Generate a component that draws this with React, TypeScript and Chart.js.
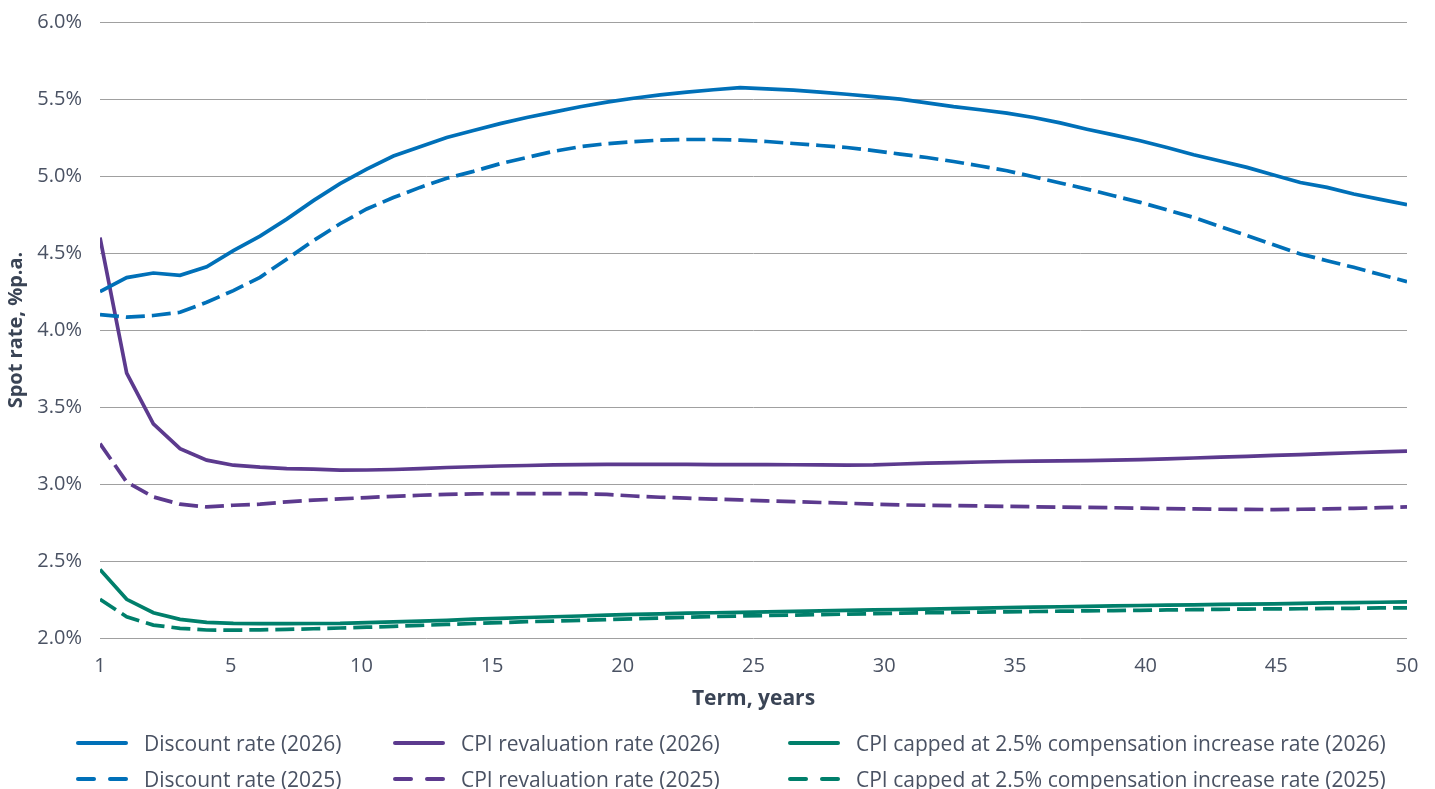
import React, { useEffect, useRef } from "react";
import { Chart, registerables } from "chart.js";

Chart.register(...registerables);

const terms = [1, 2, 3, 4, 5, 6, 7, 8, 9, 10, 11, 12, 13, 14, 15, 16, 17, 18, 19, 20, 21, 22, 23, 24, 25, 26, 27, 28, 29, 30, 31, 32, 33, 34, 35, 36, 37, 38, 39, 40, 41, 42, 43, 44, 45, 46, 47, 48, 49, 50];

const xTickLabels = ["1", "5", "10", "15", "20", "25", "30", "35", "40", "45", "50"];

const discount2026 = [4.25, 4.34, 4.37, 4.355, 4.41, 4.515, 4.61, 4.72, 4.84, 4.95, 5.045, 5.13, 5.19, 5.25, 5.295, 5.34, 5.38, 5.415, 5.45, 5.48, 5.505, 5.527, 5.545, 5.56, 5.574, 5.566, 5.557, 5.545, 5.531, 5.515, 5.499, 5.475, 5.45, 5.43, 5.408, 5.38, 5.345, 5.304, 5.267, 5.229, 5.185, 5.138, 5.097, 5.056, 5.007, 4.958, 4.926, 4.883, 4.848, 4.814];

const discount2025 = [4.1, 4.083, 4.094, 4.115, 4.18, 4.256, 4.342, 4.46, 4.58, 4.69, 4.786, 4.86, 4.926, 4.985, 5.03, 5.08, 5.12, 5.16, 5.19, 5.21, 5.223, 5.233, 5.237, 5.237, 5.233, 5.224, 5.211, 5.198, 5.185, 5.165, 5.142, 5.12, 5.094, 5.065, 5.034, 4.995, 4.955, 4.915, 4.872, 4.829, 4.78, 4.731, 4.672, 4.613, 4.553, 4.494, 4.45, 4.407, 4.36, 4.314];

const cpi2026 = [4.6, 3.72, 3.39, 3.23, 3.155, 3.122, 3.109, 3.1, 3.096, 3.09, 3.091, 3.094, 3.1, 3.107, 3.112, 3.117, 3.12, 3.124, 3.126, 3.127, 3.127, 3.127, 3.127, 3.126, 3.126, 3.126, 3.125, 3.124, 3.123, 3.124, 3.13, 3.135, 3.139, 3.143, 3.146, 3.148, 3.15, 3.152, 3.155, 3.158, 3.163, 3.169, 3.174, 3.18, 3.186, 3.191, 3.197, 3.203, 3.209, 3.214];

const cpi2025 = [3.262, 3.013, 2.916, 2.869, 2.851, 2.862, 2.869, 2.884, 2.895, 2.903, 2.912, 2.92, 2.927, 2.932, 2.936, 2.938, 2.938, 2.938, 2.937, 2.932, 2.922, 2.914, 2.908, 2.902, 2.897, 2.89, 2.885, 2.88, 2.875, 2.869, 2.864, 2.862, 2.86, 2.857, 2.855, 2.852, 2.85, 2.848, 2.846, 2.843, 2.84, 2.838, 2.836, 2.835, 2.834, 2.836, 2.838, 2.842, 2.846, 2.851];

const capped2026 = [2.445, 2.251, 2.164, 2.121, 2.102, 2.095, 2.093, 2.093, 2.094, 2.095, 2.1, 2.105, 2.11, 2.115, 2.122, 2.127, 2.133, 2.138, 2.143, 2.148, 2.153, 2.157, 2.161, 2.164, 2.167, 2.17, 2.173, 2.176, 2.179, 2.182, 2.185, 2.188, 2.191, 2.194, 2.197, 2.2, 2.203, 2.206, 2.208, 2.211, 2.213, 2.215, 2.218, 2.22, 2.222, 2.225, 2.228, 2.23, 2.232, 2.235];

const capped2025 = [2.251, 2.138, 2.084, 2.063, 2.052, 2.051, 2.053, 2.056, 2.06, 2.065, 2.07, 2.076, 2.082, 2.088, 2.094, 2.1, 2.106, 2.11, 2.115, 2.12, 2.125, 2.13, 2.135, 2.139, 2.143, 2.146, 2.149, 2.152, 2.155, 2.158, 2.161, 2.164, 2.166, 2.168, 2.17, 2.172, 2.174, 2.176, 2.178, 2.18, 2.182, 2.184, 2.186, 2.188, 2.189, 2.19, 2.192, 2.193, 2.195, 2.196];

const BLUE = "#0070b8";
const PURPLE = "#5c3a8e";
const GREEN = "#007f6b";
const TEXT = "#4a5263";
const TITLE = "#3a4455";
const FONT = "'Open Sans', sans-serif";
const DASH = [19, 7];
const CANVAS_SHIFT = 8;

const seriesDefs = [
  { label: "Discount rate (2026)", values: discount2026, color: BLUE, dashed: false },
  { label: "Discount rate (2025)", values: discount2025, color: BLUE, dashed: true },
  { label: "CPI revaluation rate (2026)", values: cpi2026, color: PURPLE, dashed: false },
  { label: "CPI revaluation rate (2025)", values: cpi2025, color: PURPLE, dashed: true },
  { label: "CPI capped at 2.5% compensation increase rate (2026)", values: capped2026, color: GREEN, dashed: false },
  { label: "CPI capped at 2.5% compensation increase rate (2025)", values: capped2025, color: GREEN, dashed: true },
];

const legendColumns = [
  { left: 78, items: [0, 1] },
  { left: 395, items: [2, 3] },
  { left: 790, items: [4, 5] },
];
const legendRows = [743, 779];

function LegendSample({ color, dashed }: { color: string; dashed: boolean }) {
  return (
    <svg width={52} height={8} style={{ display: "block" }}>
      {dashed ? (
        <g stroke={color} strokeWidth={4} strokeLinecap="round">
          <line x1={2} y1={4} x2={18} y2={4} />
          <line x1={34} y1={4} x2={50} y2={4} />
        </g>
      ) : (
        <line x1={2} y1={4} x2={50} y2={4} stroke={color} strokeWidth={4} strokeLinecap="round" />
      )}
    </svg>
  );
}

export default function App() {
  const canvasRef = useRef<HTMLCanvasElement | null>(null);

  useEffect(() => {
    if (!canvasRef.current) return;
    const datasets = seriesDefs.map((s) => ({
      label: s.label,
      data: terms.map((t, i) => ({ x: t, y: s.values[i] })),
      borderColor: s.color,
      backgroundColor: s.color,
      borderWidth: 3.7,
      borderDash: s.dashed ? DASH : [],
      pointRadius: 0,
      tension: 0,
      fill: false,
    }));
    const chart = new Chart(canvasRef.current, {
      type: "line",
      data: { datasets },
      options: {
        animation: false,
        responsive: false,
        maintainAspectRatio: false,
        layout: { padding: { top: 13, right: 28, left: 0, bottom: 0 } },
        plugins: { legend: { display: false }, tooltip: { enabled: false } },
        scales: {
          x: {
            type: "linear",
            min: terms[0],
            max: terms[terms.length - 1],
            afterBuildTicks: (scale: any) => {
              const span = terms[terms.length - 1] - terms[0];
              scale.ticks = xTickLabels.map((_, i) => ({
                value: terms[0] + (i * span) / (xTickLabels.length - 1),
              }));
            },
            afterFit: (scale: any) => {
              scale.height = 151;
            },
            grid: { display: false, drawTicks: false },
            border: { display: false },
            ticks: {
              autoSkip: false,
              maxRotation: 0,
              padding: 16,
              color: TEXT,
              font: { family: FONT, size: 20 },
              callback: (_v: any, i: number) => xTickLabels[i],
            },
            title: {
              display: true,
              text: "Term, years",
              color: TITLE,
              font: { family: FONT, size: 21, weight: "bold" },
              padding: { top: 0, bottom: 77 },
            },
          },
          y: {
            min: 2,
            max: 6,
            afterFit: (scale: any) => {
              scale.width = 100;
            },
            grid: { color: "#a0a0a0", lineWidth: 1, drawTicks: false },
            border: { display: false },
            ticks: {
              stepSize: 0.5,
              padding: 18,
              color: TEXT,
              font: { family: FONT, size: 20 },
              callback: (v: any) => Number(v).toFixed(1) + "%",
            },
            title: {
              display: true,
              text: "Spot rate, %p.a.",
              color: TITLE,
              font: { family: FONT, size: 20, weight: "bold" },
              padding: { top: 4, bottom: 0 },
            },
          },
        },
      },
    });
    return () => chart.destroy();
  }, []);

  return (
    <div style={{ position: "fixed", left: 0, top: 0, width: 1435, height: 789, background: "#fff", overflow: "hidden" }}>
      <canvas
        ref={canvasRef}
        width={1435}
        height={789 + CANVAS_SHIFT}
        style={{ position: "absolute", left: 0, top: -CANVAS_SHIFT, width: 1435, height: 789 + CANVAS_SHIFT, display: "block" }}
      />
      {legendColumns.map((col, ci) =>
        col.items.map((idx, ri) => {
          const s = seriesDefs[idx];
          return (
            <div
              key={`${ci}-${ri}`}
              style={{
                position: "absolute",
                left: col.left - 2,
                top: legendRows[ri] - 16,
                height: 32,
                display: "flex",
                alignItems: "center",
                whiteSpace: "nowrap",
                fontFamily: FONT,
                fontSize: 21,
                color: TEXT,
              }}
            >
              <LegendSample color={s.color} dashed={s.dashed} />
              <span style={{ marginLeft: 16 }}>{s.label}</span>
            </div>
          );
        })
      )}
    </div>
  );
}
